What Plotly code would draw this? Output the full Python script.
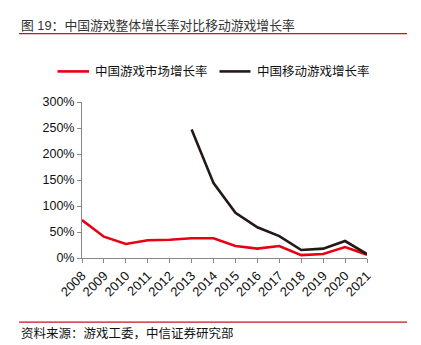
import plotly.graph_objects as go

years = list(range(2008, 2022))
market_growth = [73, 41, 27, 34, 35, 38, 38, 23, 18, 23, 5.5, 7.7, 21, 6.4]
mobile_years = list(range(2013, 2022))
mobile_growth = [247, 144, 87, 59, 42, 15.4, 18, 32.6, 7.6]

y_ticks = [0, 50, 100, 150, 200, 250, 300]
y_tick_text = [f"{v}%" for v in y_ticks]

series_names = ["中国游戏市场增长率", "中国移动游戏增长率"]
red = "#e60012"
black = "#231815"

FONT = "Liberation Sans, Arial, Noto Sans CJK SC, sans-serif"

fig = go.Figure()
fig.add_trace(go.Scatter(x=years, y=market_growth, mode="lines",
                         line=dict(color=red, width=2.6), name=series_names[0]))
fig.add_trace(go.Scatter(x=mobile_years, y=mobile_growth, mode="lines",
                         line=dict(color=black, width=2.6), name=series_names[1]))

W, H = 421, 345
L, R, T, B = 82, 54, 101.7, 86.7
pw, ph = W - L - R, H - T - B


def px(x):
    return (x - L) / pw


def py(y):
    return (H - B - y) / ph


shapes = [
    # header and footer rules
    dict(type="line", xref="paper", yref="paper", x0=px(19), x1=px(407), y0=py(33), y1=py(33),
         line=dict(color="#c0161c", width=1.2)),
    dict(type="line", xref="paper", yref="paper", x0=px(19), x1=px(407), y0=py(322.7), y1=py(322.7),
         line=dict(color="#c0161c", width=1.2)),
    # legend samples
    dict(type="line", xref="paper", yref="paper", x0=px(57.5), x1=px(89), y0=py(71), y1=py(71),
         line=dict(color=red, width=2.6)),
    dict(type="line", xref="paper", yref="paper", x0=px(219.5), x1=px(250.5), y0=py(71), y1=py(71),
         line=dict(color=black, width=2.6)),
]

annotations = [
    dict(text="图 19：中国游戏整体增长率对比移动游戏增长率", xref="paper", yref="paper",
         x=px(19), y=py(25), xanchor="left", yanchor="middle", showarrow=False,
         font=dict(size=12.8, color="#333333", family=FONT)),
    dict(text=series_names[0], xref="paper", yref="paper",
         x=px(93), y=py(71), xanchor="left", yanchor="middle", showarrow=False,
         font=dict(size=12.5, color="#111111", family=FONT)),
    dict(text=series_names[1], xref="paper", yref="paper",
         x=px(255), y=py(71), xanchor="left", yanchor="middle", showarrow=False,
         font=dict(size=12.5, color="#111111", family=FONT)),
    dict(text="资料来源：游戏工委，中信证券研究部", xref="paper", yref="paper",
         x=px(19), y=py(334), xanchor="left", yanchor="middle", showarrow=False,
         font=dict(size=12.5, color="#111111", family=FONT)),
]

fig.update_layout(
    width=W, height=H,
    margin=dict(l=L, r=R, t=T, b=B, pad=0),
    paper_bgcolor="white", plot_bgcolor="white",
    showlegend=False,
    font=dict(family=FONT, color="#111111"),
    shapes=shapes, annotations=annotations,
    xaxis=dict(range=[2008, 2021], tickvals=years, ticktext=[str(y) for y in years],
               tickangle=-45, ticks="outside", ticklen=4, tickcolor="#888888",
               showline=True, linecolor="#888888", linewidth=1, showgrid=False,
               zeroline=False, tickfont=dict(size=13, color="#111111")),
    yaxis=dict(range=[0, 300], tickvals=y_ticks, ticktext=y_tick_text,
               ticks="outside", ticklen=4, tickcolor="#888888",
               showline=True, linecolor="#888888", linewidth=1, showgrid=False,
               zeroline=False, tickfont=dict(size=12.5, color="#111111")),
)

fig.write_html("out.html")
